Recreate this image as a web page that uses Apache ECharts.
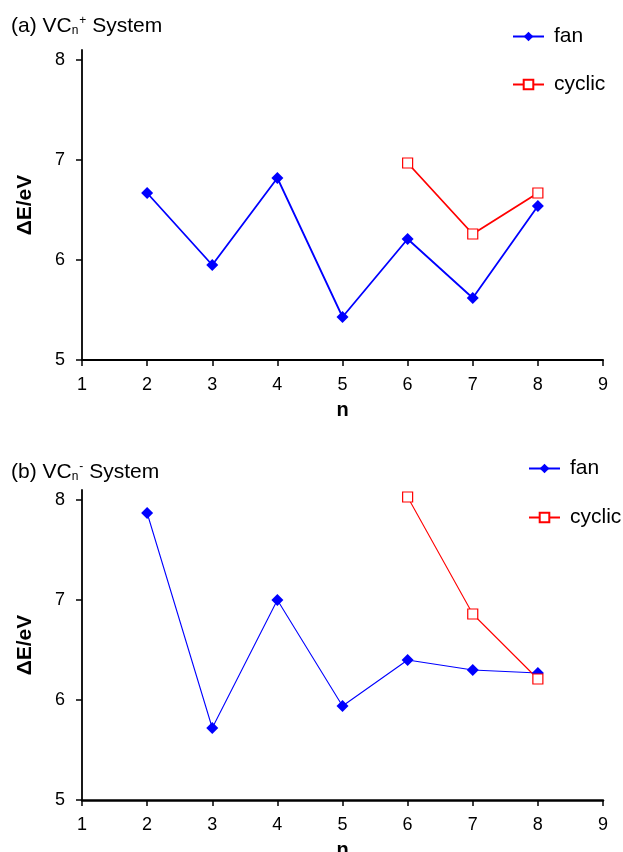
<!DOCTYPE html>
<html>
<head>
<meta charset="utf-8">
<script src="https://cdn.jsdelivr.net/npm/echarts@6/dist/echarts.min.js"></script>
<style>
  html, body { margin: 0; padding: 0; background: #fff; }
  #chart { width: 623px; height: 852px; }
</style>
</head>
<body>
<div id="chart"></div>
<script>
// n values and energies
var nFan = [2, 3, 4, 5, 6, 7, 8];
var nCyclic = [6, 7, 8];
var fanPlus = [6.67, 5.95, 6.82, 5.43, 6.21, 5.62, 6.54];
var cyclicPlus = [6.97, 6.26, 6.67];
var fanMinus = [7.87, 5.72, 7.00, 5.94, 6.40, 6.30, 6.27];
var cyclicMinus = [8.03, 6.86, 6.21];
var yTicks = [5, 6, 7, 8];

function pairs(xs, ys) {
    return xs.map(function (x, i) { return [x, ys[i]]; });
}

var font = 'Liberation Sans, Arial, sans-serif';
var titleRich = {
    a: { fontSize: 21, color: '#000', fontFamily: font, fontWeight: 'normal', lineHeight: 28 },
    s: { fontSize: 12, color: '#000', fontFamily: font, fontWeight: 'normal', lineHeight: 28, padding: [10, 0, 0, 0] },
    p: { fontSize: 12, color: '#000', fontFamily: font, fontWeight: 'normal', lineHeight: 28, padding: [0, 0, 10, 1] }
};

function xAxisOpt(idx, w) {
    return {
        type: 'value', gridIndex: idx, min: 1, max: 9, interval: 1,
        name: 'n', nameLocation: 'middle', nameGap: 40,
        nameTextStyle: { fontSize: 20, fontWeight: 'bold', color: '#000', fontFamily: font },
        axisLine: { lineStyle: { color: '#000', width: w } },
        axisTick: { show: true, length: 6, lineStyle: { color: '#000', width: 1.5 } },
        axisLabel: { fontSize: 18, color: '#000', fontFamily: font, margin: 16 },
        splitLine: { show: false }
    };
}
function yAxisOpt(idx) {
    return {
        type: 'value', gridIndex: idx, min: 5, max: 8.1,
        name: 'ΔE/eV', nameLocation: 'middle', nameGap: 46,
        nameTextStyle: { fontSize: 21, fontWeight: 'bold', color: '#000', fontFamily: font },
        axisLine: { lineStyle: { color: '#000', width: 1.8 } },
        axisTick: { show: true, length: 6, customValues: yTicks, lineStyle: { color: '#000', width: 1.5 } },
        axisLabel: { fontSize: 18, color: '#000', fontFamily: font, margin: 17, customValues: yTicks },
        splitLine: { show: false }
    };
}
function legendOpt(left, top, gap) {
    return {
        data: ['fan', 'cyclic'], orient: 'vertical', left: left, top: top, itemGap: gap,
        itemWidth: 31, itemHeight: 12,
        textStyle: { fontSize: 21, color: '#000', fontFamily: font, padding: [0, 0, 0, 5] }
    };
}

var chart = echarts.init(document.getElementById('chart'));
var option = {
    animation: false,
    backgroundColor: '#fff',
    title: [
        { text: '{a|(a) VC}{s|n}{p|+}{a| System}', left: 11, top: 12, padding: 0, textStyle: { rich: titleRich } },
        { text: '{a|(b) VC}{s|n}{p|-}{a| System}', left: 11, top: 458, padding: 0, textStyle: { rich: titleRich } }
    ],
    legend: [legendOpt(507, 21, 27), legendOpt(523, 453, 28)],
    grid: [
        { left: 82, right: 20, top: 50, bottom: 492, outerBoundsMode: 'none' },
        { left: 82, right: 20, top: 490, bottom: 52, outerBoundsMode: 'none' }
    ],
    xAxis: [xAxisOpt(0, 2), xAxisOpt(1, 2.5)],
    yAxis: [yAxisOpt(0), yAxisOpt(1)],
    series: [
        {
            name: 'fan', type: 'line', xAxisIndex: 0, yAxisIndex: 0,
            data: pairs(nFan, fanPlus),
            symbol: 'diamond', symbolSize: 12,
            lineStyle: { color: '#0000ff', width: 1.8 },
            itemStyle: { color: '#0000ff' }
        },
        {
            name: 'cyclic', type: 'line', xAxisIndex: 0, yAxisIndex: 0,
            data: pairs(nCyclic, cyclicPlus),
            symbol: 'rect', symbolSize: 10,
            lineStyle: { color: '#ff0000', width: 1.8 },
            itemStyle: { color: '#fff', borderColor: '#ff0000', borderWidth: 1.2 }
        },
        {
            name: 'fan', type: 'line', xAxisIndex: 1, yAxisIndex: 1,
            data: pairs(nFan, fanMinus),
            symbol: 'diamond', symbolSize: 12,
            lineStyle: { color: '#0000ff', width: 1.1 },
            itemStyle: { color: '#0000ff' }
        },
        {
            name: 'cyclic', type: 'line', xAxisIndex: 1, yAxisIndex: 1,
            data: pairs(nCyclic, cyclicMinus),
            symbol: 'rect', symbolSize: 10,
            lineStyle: { color: '#ff0000', width: 1.1 },
            itemStyle: { color: '#fff', borderColor: '#ff0000', borderWidth: 1.2 }
        }
    ]
};
chart.setOption(option);
</script>
</body>
</html>
